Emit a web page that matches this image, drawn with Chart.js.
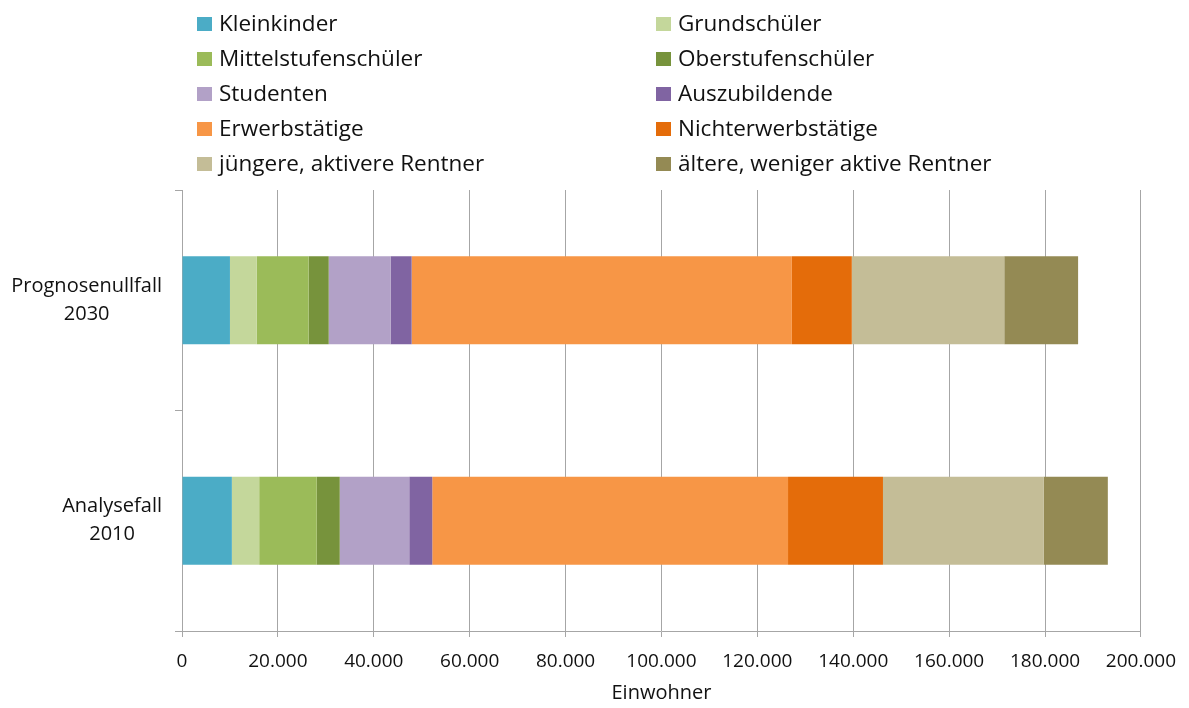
<!DOCTYPE html>
<html>
<head>
<meta charset="utf-8">
<script src="https://cdn.jsdelivr.net/npm/chart.js@4"></script>
<style>
  body { margin: 0; background: #fff; }
  #wrap { position: relative; width: 1189px; height: 708px; }
  #legend { position: absolute; left: 0; top: 0; width: 1189px; height: 185px;
            font-family: "Open Sans", sans-serif; font-size: 22.5px; color: #111; }
  .item { position: absolute; height: 30px; line-height: 30px; white-space: nowrap; }
  .box { display: inline-block; width: 15px; height: 14px; margin-right: 7px; vertical-align: 0px; }
</style>
</head>
<body>
<div id="wrap">
  <canvas id="myChart1" width="1189" height="708"></canvas>
  <div id="legend"></div>
</div>
<script>
// data ==========================================================
const categories = [["Prognosenullfall", "2030"], ["Analysefall", "2010"]];
const seriesNames = [
  "Kleinkinder", "Grundschüler", "Mittelstufenschüler", "Oberstufenschüler",
  "Studenten", "Auszubildende", "Erwerbstätige", "Nichterwerbstätige",
  "jüngere, aktivere Rentner", "ältere, weniger aktive Rentner"
];
const prognose2030 = [10000, 5600, 10800, 4200, 12900, 4400, 79300, 12500, 31800, 15400];
const analyse2010 = [10400, 5700, 12000, 4800, 14500, 4800, 74200, 19800, 33500, 13400];
const xTicks = [0, 20000, 40000, 60000, 80000, 100000, 120000, 140000, 160000, 180000, 200000];

const colors = ["#4BACC6", "#C4D79B", "#9BBB59", "#77933C", "#B2A1C7",
                "#8064A2", "#F79646", "#E46C0A", "#C4BD97", "#948A54"];

const FONT = "Open Sans, sans-serif";

function fmt(v) {
  return String(v).replace(/\B(?=(\d{3})+(?!\d))/g, ".");
}

const datasets = seriesNames.map(function (name, i) {
  return {
    label: name,
    data: [prognose2030[i], analyse2010[i]],
    backgroundColor: colors[i],
    borderWidth: 0,
    categoryPercentage: 0.8,
    barPercentage: 0.5,
  };
});

// y labels: lines centred within each label block
const yLabels = {
  id: "yLabels",
  afterDraw(chart) {
    const ctx = chart.ctx;
    const y = chart.scales.y;
    ctx.save();
    ctx.font = "20px " + FONT;
    ctx.fillStyle = "#111";
    ctx.textAlign = "center";
    ctx.textBaseline = "middle";
    categories.forEach(function (lines, i) {
      const py = y.getPixelForTick(i);
      const w = Math.max.apply(null, lines.map(function (l) { return ctx.measureText(l).width; }));
      const cx = 162 - w / 2;
      lines.forEach(function (l, k) {
        ctx.fillText(l, cx, py + (k - (lines.length - 1) / 2) * 28);
      });
    });
    ctx.restore();
  }
};

const config = {
  type: "bar",
  data: { labels: categories, datasets: datasets },
  options: {
    indexAxis: "y",
    responsive: false,
    animation: false,
    layout: { padding: { top: 190, right: 47, left: 0, bottom: 0 } },
    plugins: { legend: { display: false }, tooltip: { enabled: false } },
    scales: {
      x: {
        stacked: true,
        min: 0,
        max: 200000,
        afterBuildTicks: function (s) { s.ticks = xTicks.map(function (v) { return { value: v }; }); },
        afterFit: function (s) { s.height = 77; },
        grid: { color: "#A6A6A6", lineWidth: 1, tickLength: 6 },
        border: { color: "#A6A6A6" },
        ticks: {
          padding: 13,
          color: "#111",
          font: { size: 19, family: FONT },
          callback: function (v) { return fmt(v); },
        },
        title: {
          display: true,
          text: "Einwohner",
          color: "#111",
          font: { size: 20, family: FONT },
          padding: { top: 0, bottom: 3 },
        },
      },
      y: {
        stacked: true,
        afterFit: function (s) { s.width = 182; },
        grid: { offset: true, drawOnChartArea: false, color: "#A6A6A6", tickLength: 7 },
        border: { color: "#A6A6A6" },
        ticks: { display: false },
      },
    },
  },
  plugins: [yLabels],
};

const myChart = new Chart(document.getElementById("myChart1"), config);

// legend (two columns) =========================================
const legend = document.getElementById("legend");
const colX = [197, 656];
const rowY = [23, 58, 93, 128, 163];
seriesNames.forEach(function (name, i) {
  const d = document.createElement("div");
  d.className = "item";
  d.style.left = colX[i % 2] + "px";
  d.style.top = (rowY[Math.floor(i / 2)] - 15) + "px";
  const b = document.createElement("span");
  b.className = "box";
  b.style.background = myChart.data.datasets[i].backgroundColor;
  d.appendChild(b);
  d.appendChild(document.createTextNode(name));
  legend.appendChild(d);
});
</script>
</body>
</html>
